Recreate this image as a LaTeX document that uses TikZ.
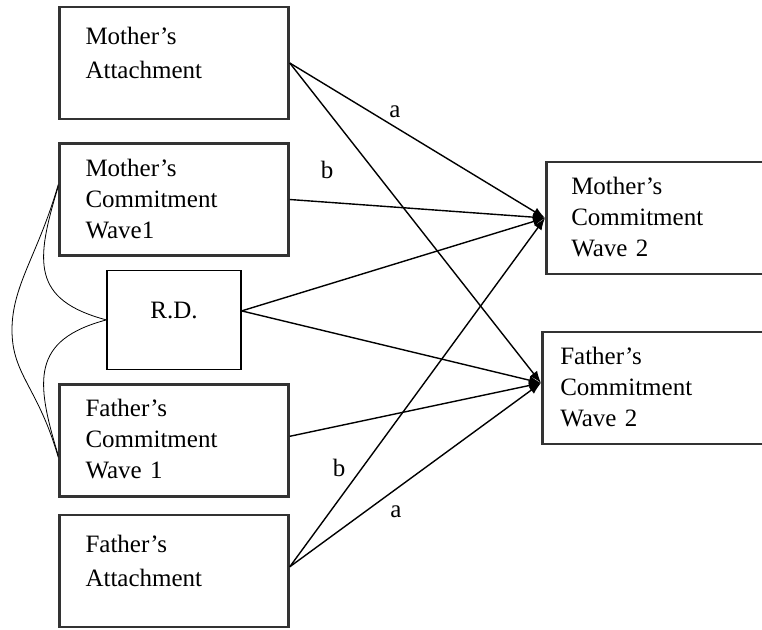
\documentclass[tikz,border=0pt]{standalone}
\usepackage{fontspec}
\setmainfont{Liberation Serif}
\usetikzlibrary{arrows.meta,positioning}

\begin{document}
\begin{tikzpicture}[x=1pt,y=-1pt,->,>={Latex[length=12pt,width=9pt]},line width=1.4pt,
  every node/.style={font=\fontsize{25}{31}\selectfont},
  box/.style={draw=black!80,line width=2.5pt,inner xsep=26pt,inner ysep=0pt,text width=177pt,align=left,minimum height=112pt,text height=22pt,text depth=69pt},
  attbox/.style={box,font=\fontsize{25}{34}\selectfont,text height=27pt,text depth=64pt},
  rdbox/.style={draw,line width=1.3pt,minimum width=134pt,minimum height=99pt,text depth=20pt},
  link/.style={-,line width=0.8pt}]
  \useasboundingbox (0,0) rectangle (762,629);
  \node[attbox] (ma) at (174,63) {Mother's\\Attachment};
  \node[box] (mcw1) [below=22pt of ma] {Mother's\\Commitment\\Wave1};
  \node[rdbox] (rd) [below=13pt of mcw1] {R.D.};
  \node[box] (fcw1) [below=13pt of rd] {Father's\\Commitment\\Wave 1};
  \node[attbox] (fa) [below=16pt of fcw1] {Father's\\Attachment};
  \node[box,inner xsep=25pt,text width=190pt,anchor=west] (mcw2) at (545,218) {Mother's\\Commitment\\Wave 2};
  \node[box,inner xsep=18pt,text width=204pt,anchor=west] (fcw2) at (541,388) {Father's\\Commitment\\Wave 2};
  \node (a1) at (395,112) {a};
  \node (b1) at (327,170) {b};
  \node (b2) at (339,468) {b};
  \node (a2) at (396,512) {a};
  \coordinate (bend) at (12,330);
  \path (ma.east) edge (mcw2.west);
  \path (ma.east) edge ([yshift=5pt]fcw2.west);
  \path (mcw1.east) edge (mcw2.west);
  \path ([yshift=9pt]rd.east) edge (mcw2.west);
  \path ([yshift=9pt]rd.east) edge ([yshift=5pt]fcw2.west);
  \path ([yshift=4pt]fcw1.east) edge ([yshift=5pt]fcw2.west);
  \path ([yshift=4pt]fa.east) edge (mcw2.west);
  \path ([yshift=4pt]fa.east) edge ([yshift=5pt]fcw2.west);
  \draw[link] ([yshift=15pt]mcw1.west) .. controls +(-20,70) and +(0,-45) .. (bend) .. controls +(0,45) and +(-20,-70) .. ([yshift=-17pt]fcw1.west);
  \draw[link] ([yshift=13pt]mcw1.west) .. controls +(-23,75) and +(-75,-20) .. (rd.west);
  \draw[link] (rd.west) .. controls +(-75,20) and +(-23,-75) .. ([yshift=-15pt]fcw1.west);
\end{tikzpicture}
\end{document}
